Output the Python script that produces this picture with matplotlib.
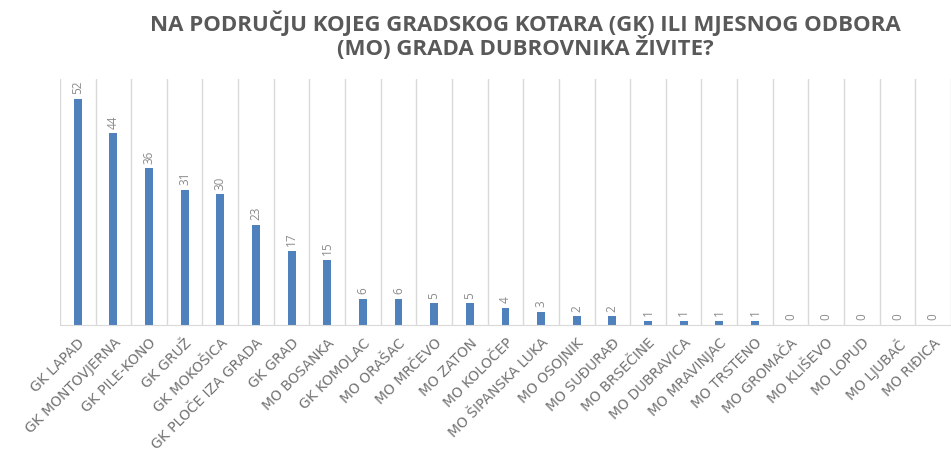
import matplotlib.pyplot as plt

categories = ["GK LAPAD", "GK MONTOVJERNA", "GK PILE-KONO", "GK GRUŽ", "GK MOKOŠICA",
              "GK PLOČE IZA GRADA", "GK GRAD", "MO BOSANKA", "GK KOMOLAC", "MO ORAŠAC",
              "MO MRČEVO", "MO ZATON", "MO KOLOČEP", "MO ŠIPANSKA LUKA", "MO OSOJNIK",
              "MO SUĐURAĐ", "MO BRSEČINE", "MO DUBRAVICA", "MO MRAVINJAC", "MO TRSTENO",
              "MO GROMAČA", "MO KLIŠEVO", "MO LOPUD", "MO LJUBAČ", "MO RIĐICA"]
values = [52, 44, 36, 31, 30, 23, 17, 15, 6, 6, 5, 5, 4, 3, 2, 2, 1, 1, 1, 1, 0, 0, 0, 0, 0]

title = "NA PODRUČJU KOJEG GRADSKOG KOTARA (GK) ILI MJESNOG ODBORA\n(MO) GRADA DUBROVNIKA ŽIVITE?"

plt.rcParams['font.family'] = ['Open Sans', 'DejaVu Sans']

fig = plt.figure(figsize=(9.51, 4.6), dpi=100)
ax = fig.add_axes([0.063, 0.291, 0.937, 0.535])

x = list(range(len(categories)))
ax.bar(x, values, width=0.22, color="#4f81bd", zorder=2)

# vertical grid between categories
for b in [i - 0.5 for i in range(len(categories) + 1)]:
    ax.axvline(b, color="#d9d9d9", lw=1, zorder=1)

ax.set_xlim(-0.5, len(categories) - 0.5)
ax.set_ylim(0, 56.5)
ax.set_yticks([])
for s in ["top", "right", "left"]:
    ax.spines[s].set_visible(False)
ax.spines["bottom"].set_color("#d9d9d9")

for xi, v in zip(x, values):
    ax.text(xi, v + 1.3, str(v), rotation=90, ha="center", va="bottom",
            fontsize=8.5, color="#8c8c8c")

ax.set_xticks(x)
ax.set_xticklabels(categories, rotation=45, ha="right", rotation_mode="anchor",
                   fontsize=10, color="#737373", family="DejaVu Sans")
ax.tick_params(axis="x", length=0, pad=7)

fig.text(0.552, 0.978, title, ha="center", va="top", fontsize=16,
         fontweight="bold", color="#595959", linespacing=1.0)

fig.savefig("out.png", dpi=100)
